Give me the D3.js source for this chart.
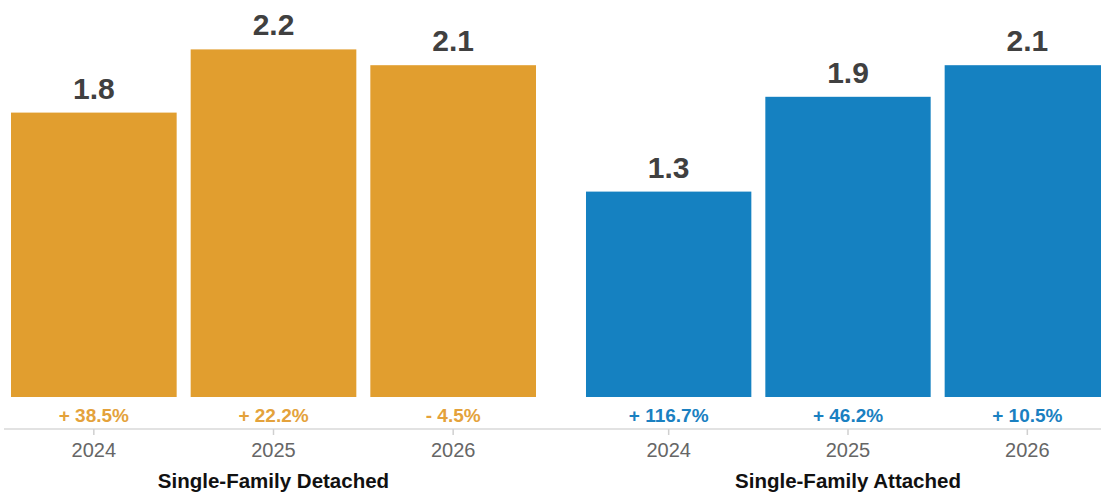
<!DOCTYPE html>
<html>
<head>
<meta charset="utf-8">
<script src="https://cdn.jsdelivr.net/npm/d3@7"></script>
<style>
  html, body { margin: 0; padding: 0; background: #fff; }
  svg { display: block; font-family: "Liberation Sans", Arial, Helvetica, sans-serif; }
</style>
</head>
<body>
<svg id="chart" width="1101" height="495"></svg>
<script>
// Housing starts (millions) by year, two segments
const years = ["2024", "2025", "2026"];
const groups = ["Single-Family Detached", "Single-Family Attached"];
const detachedValues = [1.8, 2.2, 2.1];
const attachedValues = [1.3, 1.9, 2.1];
const detachedChange = ["+ 38.5%", "+ 22.2%", "- 4.5%"];
const attachedChange = ["+ 116.7%", "+ 46.2%", "+ 10.5%"];

const panels = [
  { name: groups[0], values: detachedValues, change: detachedChange,
    bar: "#E19E2F", text: "#E4A23B", range: [4, 543] },
  { name: groups[1], values: attachedValues, change: attachedChange,
    bar: "#1581C1", text: "#1A80C1", range: [579, 1117] }
];

const W = 1101, H = 495;
const baseY = 397;   // bottom of the bars
const axisY = 429;   // axis line

const svg = d3.select("#chart");

const y = d3.scaleLinear().domain([0, 2.5]).range([baseY, 2]);

// continuous baseline under both groups
svg.append("line")
  .attr("x1", 4).attr("x2", W)
  .attr("y1", axisY).attr("y2", axisY)
  .attr("stroke", "#d9d9d9").attr("stroke-width", 1.5);

panels.forEach(p => {
  const x = d3.scaleBand().domain(years).range(p.range).paddingInner(0.078).paddingOuter(0.039);
  const g = svg.append("g");

  const rows = years.map((yr, i) => ({ yr, v: p.values[i], c: p.change[i] }));

  g.selectAll("rect").data(rows).join("rect")
    .attr("x", d => x(d.yr))
    .attr("width", x.bandwidth())
    .attr("y", d => y(d.v))
    .attr("height", d => y(0) - y(d.v))
    .attr("fill", p.bar);

  // value labels above bars
  g.selectAll("text.val").data(rows).join("text")
    .attr("class", "val")
    .attr("x", d => x(d.yr) + x.bandwidth() / 2)
    .attr("y", d => y(d.v) - 14)
    .attr("text-anchor", "middle")
    .attr("font-size", 30).attr("font-weight", "bold")
    .attr("fill", "#404040")
    .text(d => d.v.toFixed(1));

  // year-over-year change under bars
  g.selectAll("text.chg").data(rows).join("text")
    .attr("class", "chg")
    .attr("x", d => x(d.yr) + x.bandwidth() / 2)
    .attr("y", 422)
    .attr("text-anchor", "middle")
    .attr("font-size", 19).attr("font-weight", "bold")
    .attr("fill", p.text)
    .text(d => d.c);

  // year axis
  const ax = svg.append("g")
    .attr("transform", `translate(0,${axisY})`)
    .call(d3.axisBottom(x).tickSize(6).tickPadding(8));
  ax.select(".domain").remove();
  ax.selectAll(".tick line").attr("stroke", "#d0d0d0").attr("stroke-width", 1.5);
  ax.selectAll(".tick text")
    .attr("font-size", 20).attr("fill", "#666")
    .attr("font-family", "\"Liberation Sans\", Arial, sans-serif");

  // group title
  svg.append("text")
    .attr("x", x(years[1]) + x.bandwidth() / 2)
    .attr("y", 488)
    .attr("text-anchor", "middle")
    .attr("font-size", 20.5).attr("font-weight", "bold")
    .attr("fill", "#111")
    .text(p.name);
});
</script>
</body>
</html>
